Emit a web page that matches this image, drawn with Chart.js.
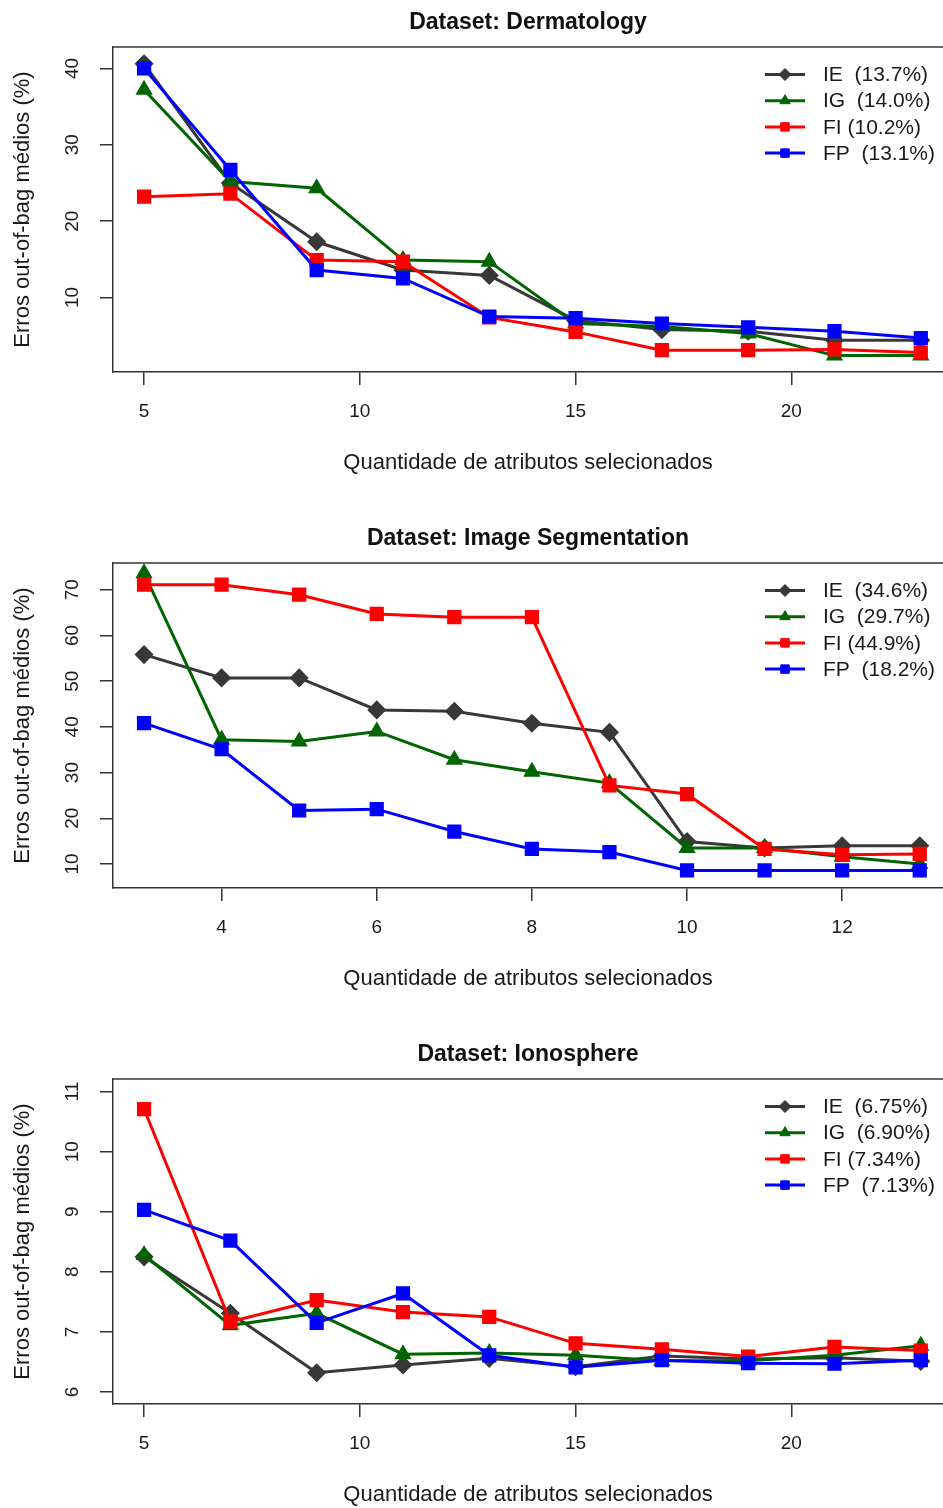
<!DOCTYPE html>
<html>
<head>
<meta charset="utf-8">
<script src="https://cdn.jsdelivr.net/npm/chart.js@4/dist/chart.umd.min.js"></script>
<style>
html, body { margin: 0; padding: 0; background: #fff; overflow: hidden; }
body { width: 943px; height: 1508px; position: relative; }
.panel { position: absolute; left: 0; width: 943px; height: 516px; }
</style>
</head>
<body>
<div class="panel" style="top:-10px"><canvas id="derm" width="943" height="516"></canvas></div>
<div class="panel" style="top:506px"><canvas id="seg" width="943" height="516"></canvas></div>
<div class="panel" style="top:1022px"><canvas id="iono" width="943" height="516"></canvas></div>
<script>
// Dermatology
const dermX = [5, 7, 9, 11, 13, 15, 17, 19, 21, 23];
const dermIE = [40.6, 25.0, 17.3, 13.6, 12.9, 7.0, 5.8, 5.6, 4.4, 4.4];
const dermIG = [37.2, 25.2, 24.3, 14.9, 14.7, 6.6, 6.2, 5.3, 2.4, 2.4];
const dermFI = [23.2, 23.6, 14.9, 14.7, 7.4, 5.5, 3.1, 3.1, 3.2, 2.8];
const dermFP = [40.0, 26.7, 13.6, 12.5, 7.5, 7.3, 6.6, 6.1, 5.6, 4.7];
const dermLegend = ["IE  (13.7%)", "IG  (14.0%)", "FI (10.2%)", "FP  (13.1%)"];
const dermXTicks = [5, 10, 15, 20];
const dermYTicks = [10, 20, 30, 40];

// Image Segmentation
const segX = [3, 4, 5, 6, 7, 8, 9, 10, 11, 12, 13];
const segIE = [55.8, 50.7, 50.7, 43.7, 43.4, 40.8, 38.8, 14.9, 13.5, 14.0, 14.0];
const segIG = [73.6, 37.2, 36.8, 39.0, 32.8, 30.2, 27.7, 13.5, 13.5, 11.6, 10.0];
const segFI = [71.1, 71.1, 68.9, 64.7, 64.0, 64.0, 27.2, 25.3, 13.3, 12.0, 12.2];
const segFP = [40.8, 35.1, 21.7, 22.0, 17.1, 13.3, 12.6, 8.6, 8.6, 8.6, 8.6];
const segLegend = ["IE  (34.6%)", "IG  (29.7%)", "FI (44.9%)", "FP  (18.2%)"];
const segXTicks = [4, 6, 8, 10, 12];
const segYTicks = [10, 20, 30, 40, 50, 60, 70];

// Ionosphere
const ionoX = [5, 7, 9, 11, 13, 15, 17, 19, 21, 23];
const ionoIE = [8.25, 7.31, 6.32, 6.45, 6.56, 6.42, 6.60, 6.55, 6.57, 6.51];
const ionoIG = [8.28, 7.11, 7.31, 6.63, 6.65, 6.61, 6.52, 6.52, 6.61, 6.77];
const ionoFI = [10.71, 7.17, 7.53, 7.33, 7.25, 6.81, 6.71, 6.59, 6.75, 6.69];
const ionoFP = [9.03, 8.52, 7.15, 7.64, 6.61, 6.41, 6.53, 6.48, 6.47, 6.53];
const ionoLegend = ["IE  (6.75%)", "IG  (6.90%)", "FI (7.34%)", "FP  (7.13%)"];
const ionoXTicks = [5, 10, 15, 20];
const ionoYTicks = [6, 7, 8, 9, 10, 11];

const colors = ["#383838", "#006400", "#ff0000", "#0000ff"];
const shapes = ["rectRot", "triangle", "rect", "rect"];
const radii = [8.5, 8.5, 9, 9];

Chart.defaults.font.family = "'Liberation Sans', Arial, sans-serif";
Chart.defaults.color = "#1a1a1a";

// top edge of the R-style box (the right edge falls outside the picture) plus the legend
const boxLegend = {
    id: "boxLegend",
    afterDraw(chart) {
        const { ctx, chartArea: a } = chart;
        ctx.save();
        ctx.strokeStyle = "#333";
        ctx.lineWidth = 1.5;
        ctx.beginPath();
        ctx.moveTo(a.left, a.top);
        ctx.lineTo(a.right + 2, a.top);
        ctx.stroke();

        ctx.font = "21px 'Liberation Sans', Arial, sans-serif";
        ctx.textBaseline = "middle";
        ctx.textAlign = "left";
        const x0 = a.right - 178;
        chart.data.datasets.forEach((ds, i) => {
            const y = a.top + 27.5 + i * 26.2;
            ctx.strokeStyle = ds.borderColor;
            ctx.fillStyle = ds.borderColor;
            ctx.lineWidth = 3;
            ctx.beginPath();
            ctx.moveTo(x0, y);
            ctx.lineTo(x0 + 40, y);
            ctx.stroke();
            ctx.lineWidth = 1;
            Chart.helpers.drawPoint(ctx, { pointStyle: ds.pointStyle, radius: 6, borderWidth: 1, rotation: 0 }, x0 + 20, y);
            ctx.fillStyle = "#1a1a1a";
            ctx.fillText(ds.label, x0 + 58, y + 1);
        });
        ctx.restore();
    }
};

function makeChart(id, title, xs, series, labels, xTicks, yTicks, xr, yr) {
    const datasets = series.map((vals, i) => ({
        label: labels[i],
        data: xs.map((x, j) => ({ x: x, y: vals[j] })),
        borderColor: colors[i],
        backgroundColor: colors[i],
        pointBackgroundColor: colors[i],
        pointBorderColor: colors[i],
        pointStyle: shapes[i],
        pointRadius: radii[i],
        pointBorderWidth: 1.5,
        borderWidth: 3,
        tension: 0,
        fill: false,
        clip: false,
        order: 3 - i
    }));

    const grid = { drawOnChartArea: false, drawTicks: true, tickLength: 13, color: "#333", lineWidth: 1.5 };
    const border = { display: true, color: "#333", width: 1.5 };

    return new Chart(document.getElementById(id), {
        type: "line",
        data: { datasets },
        plugins: [boxLegend],
        options: {
            responsive: false,
            animation: false,
            devicePixelRatio: 1,
            layout: { padding: 0, autoPadding: false },
            plugins: {
                legend: { display: false },
                tooltip: { enabled: false },
                title: {
                    display: true,
                    text: title,
                    fullSize: false,
                    color: "#111",
                    font: { size: 23, weight: "bold" },
                    padding: { top: 19.2, bottom: 10.2 }
                }
            },
            scales: {
                x: {
                    type: "linear",
                    min: xr[0],
                    max: xr[1],
                    afterBuildTicks: s => { s.ticks = xTicks.map(v => ({ value: v })); },
                    afterFit: s => { s.height = 134; s.paddingLeft = 0; s.paddingRight = 0; },
                    grid, border,
                    ticks: { font: { size: 19 }, padding: 15.6, maxRotation: 0, autoSkip: false },
                    title: {
                        display: true,
                        text: "Quantidade de atributos selecionados",
                        font: { size: 22 },
                        padding: { top: 0, bottom: 29.8 }
                    }
                },
                y: {
                    type: "linear",
                    min: yr[0],
                    max: yr[1],
                    afterBuildTicks: s => { s.ticks = yTicks.map(v => ({ value: v })); },
                    afterFit: s => { s.width = 113; s.paddingTop = 0; s.paddingBottom = 0; },
                    grid, border,
                    ticks: { font: { size: 19 }, padding: 17, minRotation: 90, maxRotation: 90, crossAlign: "center", autoSkip: false },
                    title: {
                        display: true,
                        text: "Erros out-of-bag médios (%)",
                        font: { size: 22 },
                        padding: { top: 9.8, bottom: 0 }
                    }
                }
            }
        }
    });
}

makeChart("derm", "Dataset: Dermatology", dermX, [dermIE, dermIG, dermFI, dermFP], dermLegend,
    dermXTicks, dermYTicks, [4.28, 23.515], [0.25, 42.8]);
makeChart("seg", "Dataset: Image Segmentation", segX, [segIE, segIG, segFI, segFP], segLegend,
    segXTicks, segYTicks, [2.6, 13.3], [4.75, 75.84]);
makeChart("iono", "Dataset: Ionosphere", ionoX, [ionoIE, ionoIG, ionoFI, ionoFP], ionoLegend,
    ionoXTicks, ionoYTicks, [4.28, 23.515], [5.8, 11.21]);
</script>
</body>
</html>
